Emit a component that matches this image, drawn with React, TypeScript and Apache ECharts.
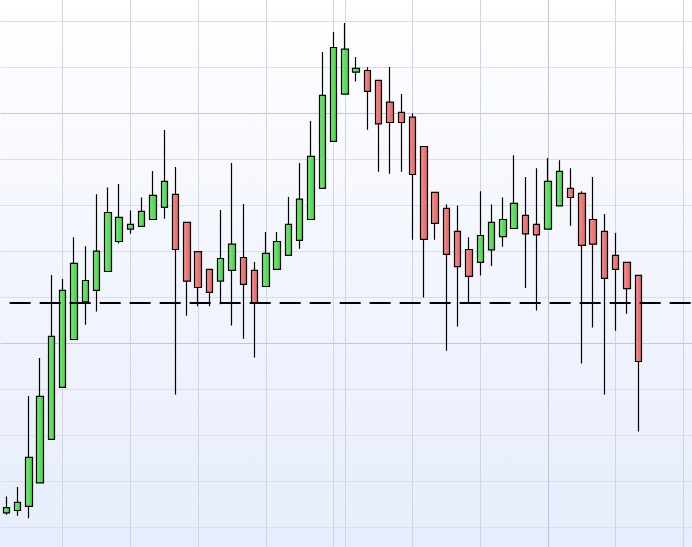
import React, { useEffect, useRef } from 'react';
import * as echarts from 'echarts';

const categories: string[] = Array.from({ length: 62 }, (_, i) => `D${i + 1}`);

const opens = [
  13.13, 13.65, 14.57, 19.65, 29.13, 40.43, 50.83, 59.02, 61.52, 65.61,
  72.13, 74.8, 75.41, 76.91, 79.57, 82.39, 76.3, 69.93, 66.07, 63.5,
  65.85, 68.65, 65.85, 62.35, 66.07, 69.11, 72.37, 76.91, 83.67, 93.91,
  104.15, 108.93, 109.3, 107.17, 102.41, 100.2, 99.15, 92.78, 82.83, 79.35,
  74.35, 70.39, 67.59, 70.33, 73.2, 74.96, 77.83, 75.85, 74.8, 79.87,
  83.67, 82.61, 76.91, 74.35, 69.11, 67.59, 64.78,
];
const closes = [
  14.26, 15.41, 25.2, 38.46, 51.5, 61.52, 67.37, 63.65, 70.02, 78.43,
  77.37, 75.85, 78.67, 82.15, 85.2, 70.39, 63.5, 62.13, 61.07, 68.43,
  71.54, 62.8, 58.78, 69.57, 72.13, 75.85, 81.33, 90.65, 103.91, 114.3,
  113.93, 109.76, 104.76, 97.7, 98.0, 98.0, 86.7, 72.59, 76.09, 69.33,
  66.67, 64.57, 73.43, 76.3, 76.91, 80.41, 73.8, 73.59, 85.2, 87.39,
  81.7, 71.3, 71.54, 64.11, 66.07, 61.89, 46.04,
];
const lows = [
  12.74, 12.52, 11.98, 19.65, 29.13, 40.43, 50.83, 54.02, 56.89, 65.61,
  71.7, 73.8, 75.41, 76.91, 77.07, 38.85, 55.98, 58.04, 58.04, 58.48,
  53.87, 50.98, 46.89, 62.35, 66.07, 69.11, 70.54, 76.91, 83.67, 93.91,
  104.15, 106.89, 96.41, 87.3, 86.85, 87.3, 72.52, 59.93, 72.52, 48.39,
  53.63, 58.78, 64.72, 66.83, 71.0, 74.96, 62.04, 57.13, 74.8, 79.87,
  75.54, 45.59, 53.41, 38.85, 52.72, 56.43, 30.8,
];
const highs = [
  16.7, 18.74, 38.54, 46.8, 64.85, 63.96, 73.04, 71.09, 82.39, 83.89,
  84.65, 78.89, 81.7, 87.46, 96.35, 88.3, 76.3, 69.93, 66.07, 78.98,
  89.22, 80.26, 67.67, 74.2, 74.2, 81.78, 89.22, 98.3, 113.33, 117.65,
  119.63, 112.26, 110.0, 107.17, 110.07, 104.22, 99.98, 92.78, 82.83, 80.17,
  79.96, 73.04, 83.07, 80.17, 81.7, 90.87, 86.17, 88.07, 90.26, 89.8,
  88.07, 83.07, 86.17, 78.13, 73.96, 67.59, 64.78,
];

const verticalGridIndices = [5, 11, 17, 23, 29, 30, 36, 42, 48, 54, 60];
const strongVerticalIndices = [48];
const referenceLevel = 58.76;

export default function App() {
  const ref = useRef<HTMLDivElement>(null);

  useEffect(() => {
    document.body.style.margin = '0';
    const chart = echarts.init(ref.current as HTMLDivElement, null, { renderer: 'svg' });
    const candleData = opens.map((o, i) => [o, closes[i], lows[i], highs[i]]);

    const upFill = new echarts.graphic.LinearGradient(0, 0, 1, 0, [
      { offset: 0, color: '#78ec78' },
      { offset: 1, color: '#46cf46' },
    ]);
    const downFill = new echarts.graphic.LinearGradient(0, 0, 1, 0, [
      { offset: 0, color: '#f49090' },
      { offset: 1, color: '#e06464' },
    ]);

    chart.setOption({
      animation: false,
      backgroundColor: 'transparent',
      grid: { left: 0.66, width: 699.7, top: 0.3, height: 598, containLabel: false },
      xAxis: {
        type: 'category',
        data: categories,
        boundaryGap: true,
        axisLine: { show: false },
        axisTick: { show: false },
        axisLabel: { show: false },
        splitLine: { show: false },
      },
      yAxis: {
        type: 'value',
        min: 0,
        max: 130,
        interval: 10,
        axisLine: { show: false },
        axisTick: { show: false },
        axisLabel: { show: false },
        splitLine: {
          show: true,
          lineStyle: {
            width: 1,
            color: ['#c3c5d9', '#dcdde9', '#dcdde9', '#dcdde9', '#dcdde9'],
          },
        },
      },
      series: [
        {
          type: 'line',
          data: [],
          z: 1,
          silent: true,
          markLine: {
            silent: true,
            symbol: ['none', 'none'],
            label: { show: false },
            z: 1,
            data: verticalGridIndices.map((i) => ({
              xAxis: categories[i],
              lineStyle: {
                color: strongVerticalIndices.includes(i) ? '#bfc2d8' : '#d3d4e3',
                width: 1,
                type: 'solid',
              },
            })),
          },
        },
        {
          type: 'candlestick',
          data: candleData,
          z: 3,
          barWidth: 7,
          clip: false,
          itemStyle: {
            color: upFill,
            color0: downFill,
            borderColor: '#000000',
            borderColor0: '#000000',
            borderWidth: 1.2,
          },
          markLine: {
            silent: true,
            symbol: ['none', 'none'],
            label: { show: false },
            z: 10,
            data: [
              {
                yAxis: referenceLevel,
                lineStyle: {
                  color: '#000000',
                  width: 2.2,
                  type: [21, 9],
                  dashOffset: 20.66,
                },
              },
            ],
          },
        },
      ],
    });

    return () => {
      chart.dispose();
    };
  }, []);

  return (
    <div
      style={{
        position: 'relative',
        width: 692,
        height: 547,
        overflow: 'hidden',
        background: 'linear-gradient(to bottom, #ffffff 0%, #f3f6fe 45%, #e7edfc 100%)',
      }}
    >
      <div
        ref={ref}
        style={{ position: 'absolute', left: 0, top: -25, width: 701, height: 600 }}
      />
    </div>
  );
}
